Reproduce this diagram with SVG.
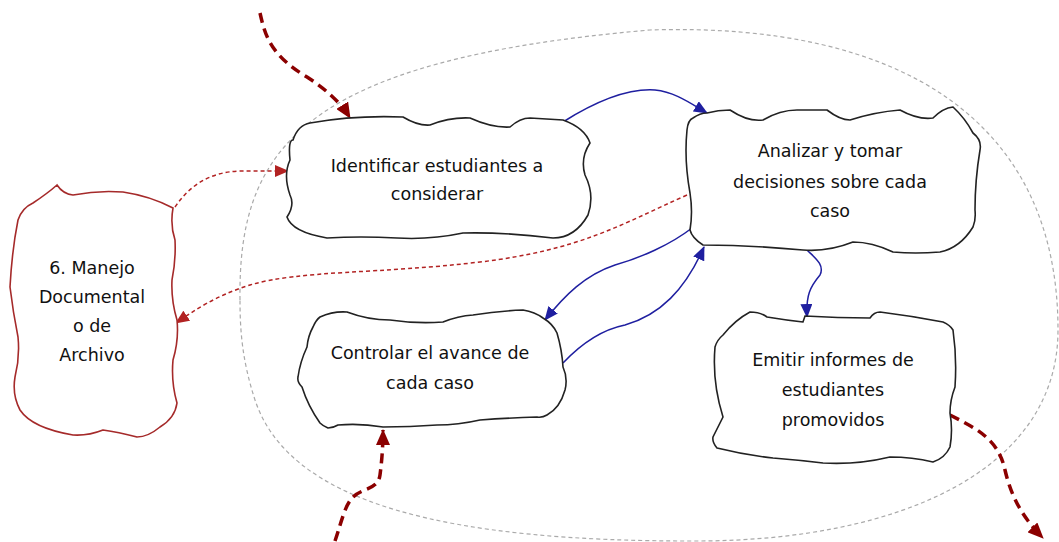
<svg xmlns="http://www.w3.org/2000/svg" width="1059" height="542" viewBox="0 0 1059 542">
<style>
.box{fill:#fff;stroke:#222;stroke-width:1.6}
.redbox{fill:#fff;stroke:#a52a2a;stroke-width:1.6}
.t{font-family:"DejaVu Sans","Liberation Sans",sans-serif;font-size:17.5px;fill:#111;text-anchor:middle}
.thick{fill:none;stroke:#8b0000;stroke-width:3.5;stroke-dasharray:10,6}
.dot{fill:none;stroke:#b22222;stroke-width:1.5;stroke-dasharray:4,3}
.blue{fill:none;stroke:#1f1fa0;stroke-width:1.5}
.zone{fill:none;stroke:#aaa;stroke-width:1.2;stroke-dasharray:4,3}
</style>
<defs>
<marker id="ah-thick" markerUnits="userSpaceOnUse" markerWidth="16" markerHeight="14" refX="15" refY="7" orient="auto"><path d="M0,0 L16,7 L0,14 Z" fill="#8b0000"/></marker>
<marker id="ah-dot" markerUnits="userSpaceOnUse" markerWidth="14" markerHeight="12" refX="13" refY="6" orient="auto"><path d="M0,0 L14,6 L0,12 Z" fill="#b22222"/></marker>
<marker id="ah-blue" markerUnits="userSpaceOnUse" markerWidth="14" markerHeight="12" refX="13" refY="6" orient="auto"><path d="M0,0 L14,6 L0,12 Z" fill="#1f1fa0"/></marker>
</defs>
<rect width="1059" height="542" fill="#fff"/>
<path class="zone" d="M240,300 C238,150 300,60 650,30 C900,22 1058,120 1058,330 C1058,470 900,540 700,541 C450,542 290,505 255,400 C242,360 240,330 240,300 Z"/>
<g id="connectors">
<path class="thick" d="M260,13 C265,35 270,55 307,77 C330,92 342,105 350,118" marker-end="url(#ah-thick)"/>
<path class="thick" d="M335,541 C342,520 345,505 353,497 C362,488 378,490 380,475 C382,460 383,445 383,430" marker-end="url(#ah-thick)"/>
<path class="thick" d="M950,415 C975,428 998,438 1005,470 C1012,500 1025,520 1043,538" marker-end="url(#ah-thick)"/>
<path class="dot" d="M175,207 C190,185 210,172 240,171 L288,171" marker-end="url(#ah-dot)"/>
<path class="dot" d="M687,195 C620,225 580,250 480,262 C380,274 300,270 250,285 C215,296 195,310 176,323" marker-end="url(#ah-dot)"/>
<path class="blue" d="M563,122 C590,105 625,88 655,90 C675,92 690,103 707,113" marker-end="url(#ah-blue)"/>
<path class="blue" d="M692,228 C670,245 640,258 615,265 C585,275 565,295 545,320" marker-end="url(#ah-blue)"/>
<path class="blue" d="M563,363 C580,345 600,330 625,325 C660,315 685,290 704,247" marker-end="url(#ah-blue)"/>
<path class="blue" d="M807,250 C815,258 825,265 820,275 C810,287 806,295 807,317" marker-end="url(#ah-blue)"/>
</g>
<g id="manejo">
<path class="redbox" d="M57,185 Q63,194 73,195 Q98,190 123,192 Q150,196 173,208 Q170,225 175,240 Q176,260 172,280 Q171,300 177,320 Q179,340 173,360 Q171,382 177,403 Q175,418 160,427 Q148,437 137,437 Q118,432 103,430 Q88,436 73,435 Q32,428 20,410 Q12,395 15,377 Q20,357 18,337 Q13,312 10,287 Q12,250 18,220 Q22,208 33,203 Q48,193 57,185 Z"/>
<text class="t" x="92" y="274">6. Manejo</text>
<text class="t" x="92" y="303">Documental</text>
<text class="t" x="92" y="332">o de</text>
<text class="t" x="92" y="361">Archivo</text>
</g>
<g id="identificar">
<path class="box" d="M310,123 Q355,115 403,117 Q418,126 430,125 Q450,117 470,118 Q492,128 510,127 Q520,118 530,118 L563,120 Q585,128 590,143 Q580,158 585,175 Q595,195 588,215 Q575,238 553,238 Q505,232 463,233 Q430,240 397,238 Q360,236 327,238 Q292,232 287,217 Q295,205 290,195 Q283,175 290,160 Q288,140 293,140 Q298,125 310,123 Z"/>
<text class="t" x="437" y="172">Identificar estudiantes a</text>
<text class="t" x="437" y="200">considerar</text>
</g>
<g id="analizar">
<path class="box" d="M707,113 Q718,110 730,110 Q748,122 763,120 Q780,110 797,110 L827,110 Q840,120 850,120 Q875,112 900,110 Q918,120 933,118 Q943,108 953,107 Q965,118 973,133 Q982,140 980,150 Q975,180 975,210 Q976,220 973,227 Q960,248 940,252 Q915,254 893,252 Q872,242 853,242 Q828,252 803,250 Q750,245 703,245 Q692,238 690,230 Q693,212 690,193 Q684,160 687,130 Q688,120 693,118 Q700,113 707,113 Z"/>
<text class="t" x="830" y="157">Analizar y tomar</text>
<text class="t" x="830" y="188">decisiones sobre cada</text>
<text class="t" x="830" y="217">caso</text>
</g>
<g id="controlar">
<path class="box" d="M320,317 Q333,311 347,312 Q368,320 390,320 Q417,324 443,322 Q458,316 473,315 Q498,311 523,310 Q535,312 543,318 Q553,324 557,333 Q562,350 563,367 Q568,378 565,390 Q560,408 547,415 Q542,418 537,417 Q508,418 480,420 Q458,425 437,425 Q410,427 383,427 Q360,423 338,425 Q333,428 328,428 Q323,426 320,423 Q308,406 302,387 Q297,382 298,377 Q300,362 307,347 Q308,336 313,327 Q316,320 320,317 Z"/>
<text class="t" x="430" y="359">Controlar el avance de</text>
<text class="t" x="430" y="389">cada caso</text>
</g>
<g id="emitir">
<path class="box" d="M750,312 Q760,312 767,317 Q785,320 803,322 L805,316 Q838,318 870,318 Q874,312 880,312 Q912,316 943,322 Q950,325 953,330 Q957,358 955,387 Q950,400 950,413 Q953,430 950,447 Q945,458 933,462 Q912,457 890,457 Q857,465 823,463 Q798,460 773,458 Q745,455 717,448 Q712,442 713,437 Q718,427 723,417 Q712,382 715,347 Q717,340 723,335 Q735,320 750,312 Z"/>
<text class="t" x="833" y="366">Emitir informes de</text>
<text class="t" x="833" y="396">estudiantes</text>
<text class="t" x="833" y="426">promovidos</text>
</g>
</svg>
